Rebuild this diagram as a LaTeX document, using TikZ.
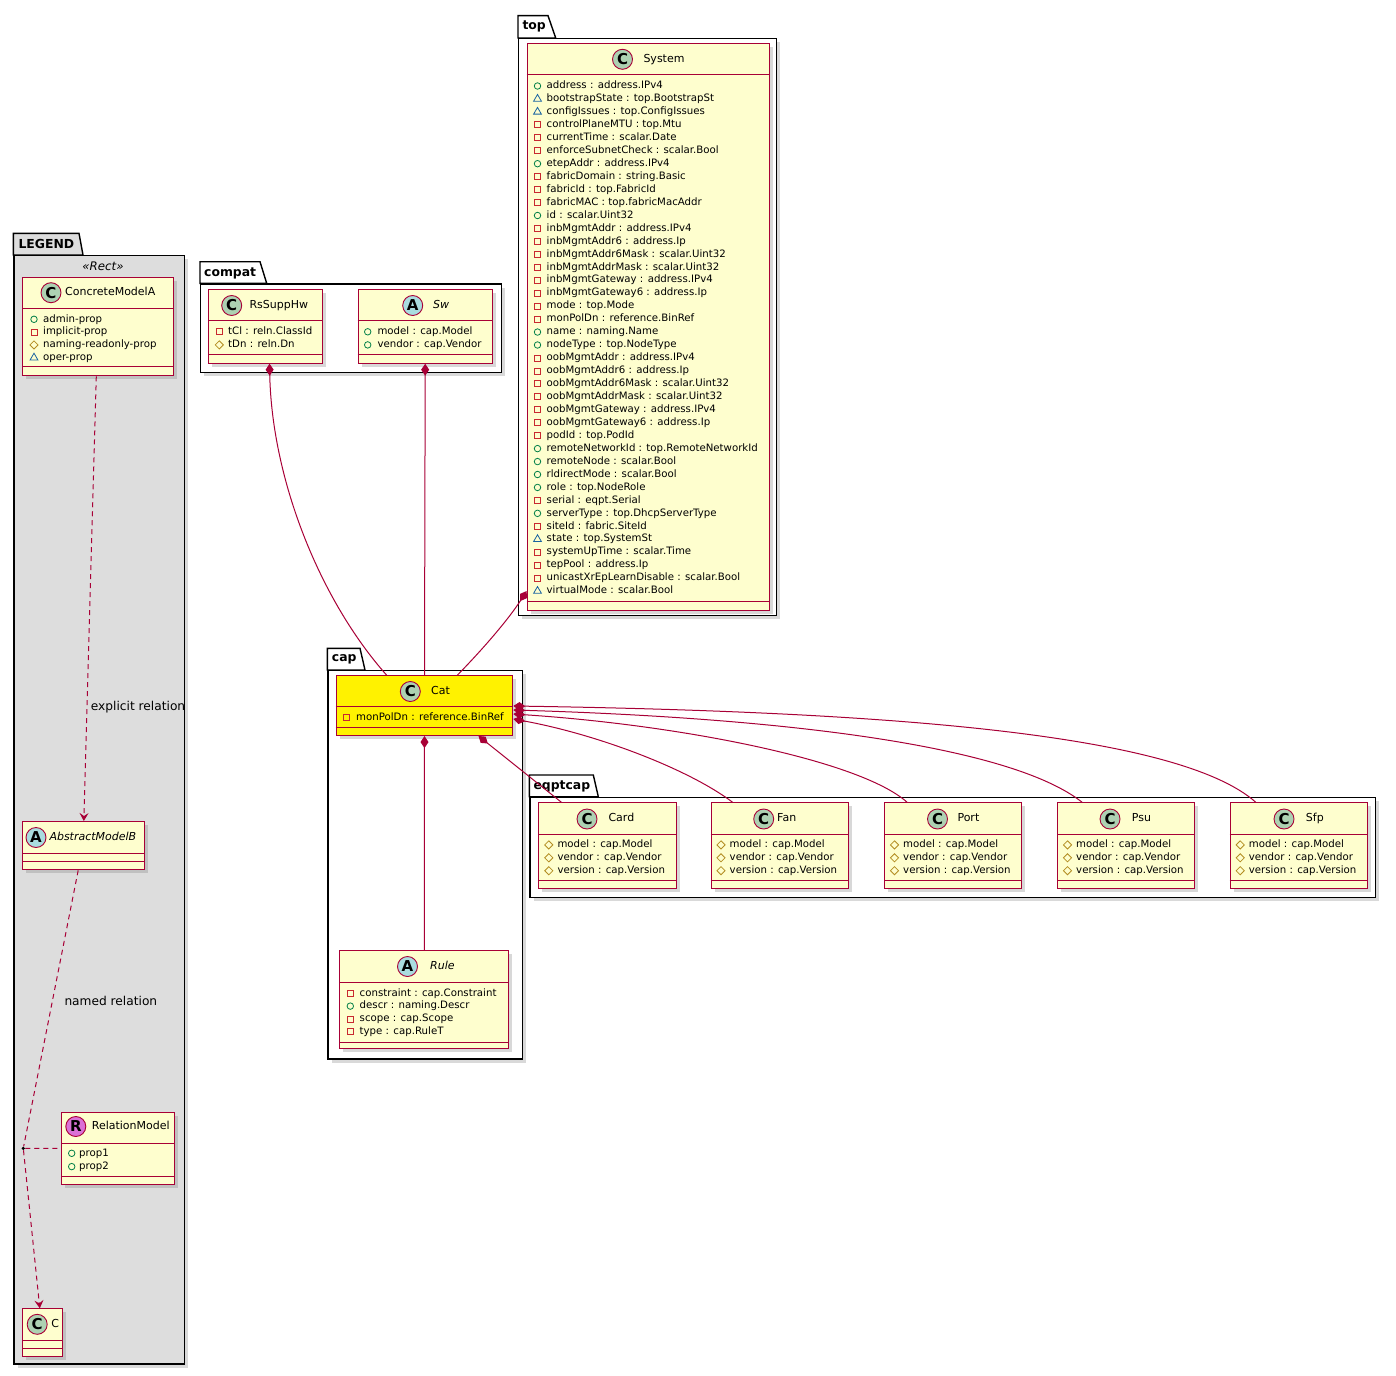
\documentclass[tikz,border=0pt]{standalone}
\usepackage{fontspec}
\setmainfont{DejaVu Sans}
\usetikzlibrary{arrows.meta,shadows,shapes.geometric,positioning}

\definecolor{umlred}{HTML}{A80036}
\definecolor{umlfill}{HTML}{FEFECE}
\definecolor{circc}{HTML}{ADD1B2}
\definecolor{circa}{HTML}{A9DCDF}
\definecolor{circr}{HTML}{DA70D6}
\definecolor{legendgray}{HTML}{DDDDDD}
\definecolor{visgreen}{HTML}{038048}
\definecolor{visred}{HTML}{C82930}
\definecolor{visyellow}{HTML}{B38D22}
\definecolor{visblue}{HTML}{1963A0}

\begin{document}
\begin{tikzpicture}[x=1pt,y=-1pt,
    umlshadow/.style={drop shadow={shadow xshift=3.5pt,shadow yshift=-3.5pt,opacity=.3}},
    pkgbody/.style={draw=black,line width=1.4pt,fill=white,anchor=north west,inner sep=0pt,umlshadow},
    pkgtab/.style={draw=black,line width=1.4pt,fill=white},
    tablbl/.style={anchor=west,inner sep=0pt,font=\bfseries\fontsize{12.4}{14}\selectfont},
    classbox/.style={draw=umlred,line width=1pt,fill=umlfill,anchor=north west,inner sep=0pt,umlshadow},
    sepline/.style={draw=umlred,line width=1pt},
    circ/.style={circle,draw=umlred,line width=.9pt,minimum size=20pt,inner sep=0pt,font=\bfseries\fontsize{15}{15}\selectfont},
    cname/.style={anchor=west,inner sep=0pt,text height=8pt,text depth=2.3pt,font=\fontsize{11}{13}\selectfont},
    attr/.style={anchor=west,inner sep=0pt,text height=7.4pt,text depth=2pt,font=\fontsize{10.2}{12}\selectfont},
    pub/.style={circle,draw=visgreen,line width=.8pt,minimum size=6.5pt,inner sep=0pt},
    priv/.style={rectangle,draw=visred,line width=.8pt,minimum size=6pt,inner sep=0pt},
    prot/.style={diamond,draw=visyellow,line width=.8pt,minimum size=8.5pt,inner sep=0pt},
    pkg/.style={regular polygon,regular polygon sides=3,draw=visblue,line width=.8pt,minimum size=9pt,inner sep=0pt},
    comp/.style={draw=umlred,line width=1pt,{Diamond[length=12pt,width=8pt]}-},
    dep/.style={draw=umlred,line width=1pt,dash pattern=on 5pt off 4pt},
    lbl/.style={anchor=west,inner sep=0pt,font=\fontsize{12.2}{14}\selectfont}
  ]
  \useasboundingbox (0,0) rectangle (1396,1375);

  % packages
  \draw[pkgtab,fill=legendgray] (13.3,255) -- (13.3,233.3) -- (79,233.3) -- (83,255) -- cycle;
  \node[pkgbody,fill=legendgray,minimum width=170.7pt,minimum height=1108.3pt] (legend) at (13.3,255) {};
  \node[tablbl] (legend-t) at (18.3,244) {LEGEND};

  \draw[pkgtab] (200,283.3) -- (200,261.7) -- (260,261.7) -- (266.7,283.3) -- cycle;
  \node[pkgbody,minimum width=300.7pt,minimum height=88.4pt] (compat) at (200,283.3) {};
  \node[tablbl] (compat-t) at (204,273.3) {compat};

  \draw[pkgtab] (518,38) -- (518,15.7) -- (548,15.7) -- (555.7,38) -- cycle;
  \node[pkgbody,minimum width=258pt,minimum height=577pt] (top) at (518,38) {};
  \node[tablbl] (top-t) at (522.3,26.7) {top};

  \draw[pkgtab] (327.3,670) -- (327.3,648.3) -- (360,648.3) -- (365,670) -- cycle;
  \node[pkgbody,minimum width=194.4pt,minimum height=388.3pt] (cap) at (327.3,670) {};
  \node[tablbl] (cap-t) at (331.7,659.3) {cap};

  \draw[pkgtab] (529.3,796.7) -- (529.3,775) -- (593.3,775) -- (598.3,796.7) -- cycle;
  \node[pkgbody,minimum width=845.7pt,minimum height=100pt] (eqptcap) at (529.3,796.7) {};
  \node[tablbl] (eqptcap-t) at (533.3,786.7) {eqptcap};

  % legend
  \node[inner sep=0pt,font=\itshape\fontsize{11.8}{13}\selectfont] (stereo) at (103,266) {«Rect»};
  \node[classbox,minimum width=151pt,minimum height=98.6pt] (concrete) at (22.3,276.7) {};
  \draw[sepline] (22.3,308.3) -- (173.3,308.3);
  \draw[sepline] (22.3,366.7) -- (173.3,366.7);
  \node[circ,fill=circc] (concrete-c) at (51,292.7) {C};
  \node[cname] (concrete-n) at (65,292.7) {ConcreteModelA};
  \foreach \vis/\txt [count=\i] in {pub/admin-prop,priv/implicit-prop,prot/naming-readonly-prop,pkg/oper-prop}
    {\node[\vis] (concrete-v\i) at (34,{306.5+\i*12.8}) {};
     \node[attr] (concrete-a\i) at (43,{306.5+\i*12.8}) {\txt};}

  \node[classbox,minimum width=122pt,minimum height=48.3pt] (abstract) at (22.3,821) {};
  \draw[sepline] (22.3,853.3) -- (144.3,853.3);
  \draw[sepline] (22.3,861.3) -- (144.3,861.3);
  \node[circ,fill=circa] (abstract-c) at (36,837.5) {A};
  \node[cname,font=\itshape\fontsize{11}{13}\selectfont] (abstract-n) at (49.3,837.5) {AbstractModelB};

  \node[classbox,minimum width=113.3pt,minimum height=72.3pt] (relation) at (61,1111.7) {};
  \draw[sepline] (61,1143.3) -- (174.3,1143.3);
  \draw[sepline] (61,1176.7) -- (174.3,1176.7);
  \node[circ,fill=circr] (relation-c) at (75.8,1126.5) {R};
  \node[cname] (relation-n) at (91.7,1126.5) {RelationModel};
  \foreach \txt [count=\i] in {prop1,prop2}
    {\node[pub] (relation-v\i) at (71.7,{1140+\i*13.3}) {};
     \node[attr] (relation-a\i) at (79,{1140+\i*13.3}) {\txt};}

  \node[classbox,minimum width=40pt,minimum height=47.7pt] (c) at (22.3,1308.3) {};
  \draw[sepline] (22.3,1340.7) -- (62.3,1340.7);
  \draw[sepline] (22.3,1348.3) -- (62.3,1348.3);
  \node[circ,fill=circc] (c-c) at (37.2,1324.3) {C};
  \node[cname] (c-n) at (51.2,1324.3) {C};

  \node[circle,fill=black,inner sep=0pt,minimum size=3.5pt] (rdot) at (23.3,1148.3) {};
  \node[lbl] (explicit) at (90.7,706.7) {explicit relation};
  \node[lbl] (named) at (64.3,1000.5) {named relation};

  % compat
  \node[classbox,minimum width=113.4pt,minimum height=73.4pt] (rssupphw) at (208.3,289.3) {};
  \draw[sepline] (208.3,320.7) -- (321.7,320.7);
  \draw[sepline] (208.3,354) -- (321.7,354);
  \node[circ,fill=circc] (rssupphw-c) at (231.7,305.5) {C};
  \node[cname] (rssupphw-n) at (249.3,305.5) {RsSuppHw};
  \foreach \vis/\txt [count=\i] in {priv/tCl : reln.ClassId,prot/tDn : reln.Dn}
    {\node[\vis] (rssupphw-v\i) at (219.3,{318.7+\i*13.1}) {};
     \node[attr] (rssupphw-a\i) at (228,{318.7+\i*13.1}) {\txt};}

  \node[classbox,minimum width=134pt,minimum height=73.4pt] (sw) at (357.7,289.3) {};
  \draw[sepline] (357.7,320.7) -- (491.7,320.7);
  \draw[sepline] (357.7,354) -- (491.7,354);
  \node[circ,fill=circa] (sw-c) at (412.7,305.5) {A};
  \node[cname,font=\itshape\fontsize{11}{13}\selectfont] (sw-n) at (433,305.5) {Sw};
  \foreach \vis/\txt [count=\i] in {pub/model : cap.Model,pub/vendor : cap.Vendor}
    {\node[\vis] (sw-v\i) at (367.7,{318.7+\i*13.1}) {};
     \node[attr] (sw-a\i) at (377.3,{318.7+\i*13.1}) {\txt};}

  % top
  \node[classbox,minimum width=242.3pt,minimum height=566.7pt] (system) at (526.7,43.3) {};
  \draw[sepline] (526.7,74.3) -- (769,74.3);
  \draw[sepline] (526.7,601.7) -- (769,601.7);
  \node[circ,fill=circc] (system-c) at (622.5,59.3) {C};
  \node[cname] (system-n) at (643.3,59.3) {System};
  \foreach \vis/\txt [count=\i] in {
      pub/address : address.IPv4, pkg/bootstrapState : top.BootstrapSt,
      pkg/configIssues : top.ConfigIssues, priv/controlPlaneMTU : top.Mtu,
      priv/currentTime : scalar.Date, priv/enforceSubnetCheck : scalar.Bool,
      pub/etepAddr : address.IPv4, priv/fabricDomain : string.Basic,
      priv/fabricId : top.FabricId, priv/fabricMAC : top.fabricMacAddr,
      pub/id : scalar.Uint32, priv/inbMgmtAddr : address.IPv4,
      priv/inbMgmtAddr6 : address.Ip, priv/inbMgmtAddr6Mask : scalar.Uint32,
      priv/inbMgmtAddrMask : scalar.Uint32, priv/inbMgmtGateway : address.IPv4,
      priv/inbMgmtGateway6 : address.Ip, priv/mode : top.Mode,
      priv/monPolDn : reference.BinRef, pub/name : naming.Name,
      pub/nodeType : top.NodeType, priv/oobMgmtAddr : address.IPv4,
      priv/oobMgmtAddr6 : address.Ip, priv/oobMgmtAddr6Mask : scalar.Uint32,
      priv/oobMgmtAddrMask : scalar.Uint32, priv/oobMgmtGateway : address.IPv4,
      priv/oobMgmtGateway6 : address.Ip, priv/podId : top.PodId,
      pub/remoteNetworkId : top.RemoteNetworkId, pub/remoteNode : scalar.Bool,
      pub/rldirectMode : scalar.Bool, pub/role : top.NodeRole,
      priv/serial : eqpt.Serial, pub/serverType : top.DhcpServerType,
      priv/siteId : fabric.SiteId, pkg/state : top.SystemSt,
      priv/systemUpTime : scalar.Time, priv/tepPool : address.Ip,
      priv/unicastXrEpLearnDisable : scalar.Bool, pkg/virtualMode : scalar.Bool}
    {\node[\vis] (system-v\i) at (537.5,{73.05+\i*12.95}) {};
     \node[attr] (system-a\i) at (546.5,{73.05+\i*12.95}) {\txt};}

  % cap
  \node[classbox,fill=yellow,minimum width=176.6pt,minimum height=60pt] (cat) at (335.7,675) {};
  \draw[sepline] (335.7,706.7) -- (512.3,706.7);
  \draw[sepline] (335.7,727.3) -- (512.3,727.3);
  \node[circ,fill=circc] (cat-c) at (410.3,691.5) {C};
  \node[cname] (cat-n) at (431,691.5) {Cat};
  \node[priv] (cat-v1) at (346.7,717.5) {};
  \node[attr] (cat-a1) at (356,717.5) {monPolDn : reference.BinRef};

  \node[classbox,minimum width=169pt,minimum height=98.3pt] (rule) at (339.3,950) {};
  \draw[sepline] (339.3,982.3) -- (508.3,982.3);
  \draw[sepline] (339.3,1042.7) -- (508.3,1042.7);
  \node[circ,fill=circa] (rule-c) at (407.5,966.5) {A};
  \node[cname,font=\itshape\fontsize{11}{13}\selectfont] (rule-n) at (430,966.5) {Rule};
  \foreach \vis/\txt [count=\i] in {priv/constraint : cap.Constraint,pub/descr : naming.Descr,
      priv/scope : cap.Scope,priv/type : cap.RuleT}
    {\node[\vis] (rule-v\i) at (350.3,{980.5+\i*12.8}) {};
     \node[attr] (rule-a\i) at (359.5,{980.5+\i*12.8}) {\txt};}

  % eqptcap
  \foreach \nm/\lab/\bx/\cx/\tx in {card/Card/538.3/587/608.3,fan/Fan/710.5/763.7/777,
      port/Port/884/937.5/957.3,psu/Psu/1057/1110/1131.7,sfp/Sfp/1229.7/1284/1305.7}
  {
    \node[classbox,minimum width=137.3pt,minimum height=85.7pt] (\nm) at (\bx,802.3) {};
    \draw[sepline] (\bx,834.5) -- ({\bx+137.3},834.5);
    \draw[sepline] (\bx,880.7) -- ({\bx+137.3},880.7);
    \node[circ,fill=circc] (\nm-c) at (\cx,819) {C};
    \node[cname] (\nm-n) at (\tx,819) {\lab};
    \foreach \txt [count=\i] in {model : cap.Model,vendor : cap.Vendor,version : cap.Version}
      {\node[prot] (\nm-v\i) at ({\bx+10.5},{832+\i*12.9}) {};
       \node[attr] (\nm-a\i) at ({\bx+19},{832+\i*12.9}) {\txt};}
  }

  % links
  \draw[dep,-{Stealth[length=8pt,width=9pt,inset=3pt]}] ([xshift=-2pt]concrete.south) -- (abstract.north);
  \draw[dep] ([xshift=-5.6pt]abstract.south) -- (rdot);
  \draw[dep,-{Stealth[length=8pt,width=9pt,inset=3pt]}] (rdot) -- ([xshift=-3pt]c.north);
  \draw[dep] (rdot) -- (relation.west);

  \draw[comp] ([xshift=4pt]rssupphw.south) .. controls (272,480) and (320,600) .. ([xshift=-38pt]cat.north);
  \draw[comp] (sw.south) -- (cat.north);
  \draw[comp] ([yshift=20pt]system.south west) .. controls (508,620) and (482,650) .. ([xshift=33pt]cat.north);
  \draw[comp] (cat.south) -- (rule.north);
  \draw[comp] ([xshift=54pt]cat.south) -- ([xshift=-46pt]card.north);
  \draw[comp] ([yshift=-44pt]cat.north east) .. controls (600,735) and (690,770) .. ([xshift=-47pt]fan.north);
  \draw[comp] ([yshift=-39pt]cat.north east) .. controls (680,725) and (860,760) .. ([xshift=-46pt]port.north);
  \draw[comp] ([yshift=-35pt]cat.north east) .. controls (780,718) and (1010,745) .. ([xshift=-44pt]psu.north);
  \draw[comp] ([yshift=-31pt]cat.north east) .. controls (900,712) and (1180,735) .. ([xshift=-43pt]sfp.north);

\end{tikzpicture}
\end{document}
